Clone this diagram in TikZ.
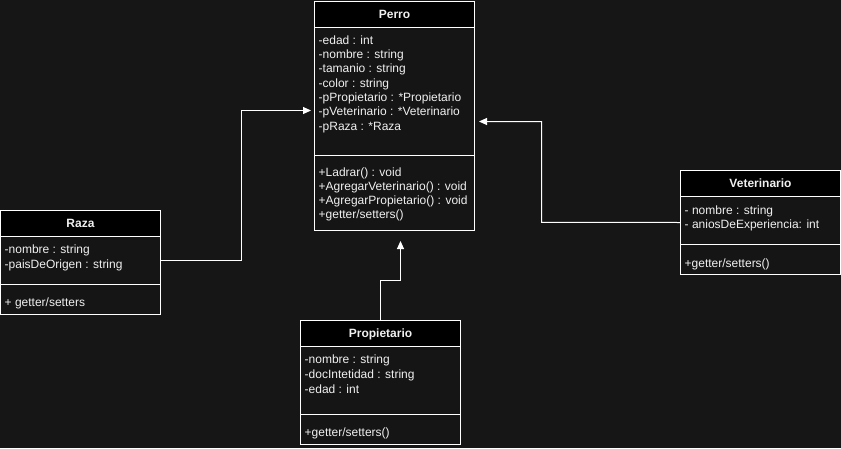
\documentclass[tikz,border=0pt]{standalone}
\usepackage{fontspec}
\setmainfont{Liberation Sans}
\usetikzlibrary{arrows.meta,calc}
\definecolor{bgc}{HTML}{161616}
\definecolor{bodyc}{HTML}{151515}
\definecolor{txtc}{HTML}{F0F0F0}
\tikzset{
  classbody/.style={draw=white, fill=bodyc, line width=1pt, minimum width=160pt, inner sep=0pt, outer sep=0pt},
  classhead/.style={draw=white, fill=black, line width=1pt, minimum width=160pt, minimum height=26pt, inner sep=0pt, outer sep=0pt,
    text=txtc, font=\fontsize{12pt}{14.4pt}\selectfont\bfseries, text height=8.6pt, text depth=0pt},
  divider/.style={draw=white, line width=1pt},
  member/.style={anchor=base west, inner sep=0pt, text=txtc, font=\fontsize{12pt}{14.4pt}\selectfont},
  conn/.style={draw=white, line width=1pt, -{Triangle[length=8pt,width=7pt]}}
}
\begin{document}
\begin{tikzpicture}[x=1pt, y=-1pt]
\useasboundingbox (0,0) rectangle (841,448);
\fill[bgc] (0,0) rectangle (841,448);

% Perro
\node[classbody, minimum height=229pt, anchor=north west] (perro) at (314.5,1) {};
\node[classhead, anchor=north west] (perroH) at (perro.north west) {Perro};
\draw[divider] (perro.west |- 0,155) -- (perro.east |- 0,155);
\foreach \t [count=\i from 0] in {{-edad : int},{-nombre : string},{-tamanio : string},{-color : string},{-pPropietario : *Propietario},{-pVeterinario : *Veterinario},{-pRaza : *Raza}}
  \node[member] (perroA\i) at (318.5,{44.3+14.3*\i}) {\t};
\foreach \t [count=\i from 0] in {{+Ladrar() : void},{+AgregarVeterinario() : void},{+AgregarPropietario() : void},{+getter/setters()}}
  \node[member] (perroM\i) at (318.5,{176+14.2*\i}) {\t};

% Raza
\node[classbody, minimum height=104pt, anchor=north west] (raza) at (0.5,210) {};
\node[classhead, anchor=north west] (razaH) at (raza.north west) {Raza};
\draw[divider] (raza.west |- 0,284.5) -- (raza.east |- 0,284.5);
\foreach \t [count=\i from 0] in {{-nombre : string},{-paisDeOrigen : string}}
  \node[member] (razaA\i) at (4.5,{253.6+15*\i}) {\t};
\node[member] (razaM0) at (4.5,306) {+ getter/setters};

% Propietario
\node[classbody, minimum height=124pt, anchor=north west] (prop) at (300.5,320) {};
\node[classhead, anchor=north west] (propH) at (prop.north west) {Propietario};
\draw[divider] (prop.west |- 0,414) -- (prop.east |- 0,414);
\foreach \t [count=\i from 0] in {{-nombre : string},{-docIntetidad : string},{-edad : int}}
  \node[member] (propA\i) at (304.5,{363.6+14.8*\i}) {\t};
\node[member] (propM0) at (304.5,436) {+getter/setters()};

% Veterinario
\node[classbody, minimum height=104pt, anchor=north west] (vet) at (680.5,170.5) {};
\node[classhead, anchor=north west] (vetH) at (vet.north west) {Veterinario};
\draw[divider] (vet.west |- 0,244.5) -- (vet.east |- 0,244.5);
\foreach \t [count=\i from 0] in {{- nombre : string},{- aniosDeExperiencia: int}}
  \node[member] (vetA\i) at (684.5,{214.3+14*\i}) {\t};
\node[member] (vetM0) at (684.5,267) {+getter/setters()};

% connectors
\coordinate (tipR) at ($(perro.west |- 0,110.5)+(-3.5,0)$);
\coordinate (tipP) at (400.5,241);
\coordinate (tipV) at ($(perro.east |- 0,121.5)+(4.5,0)$);
\draw[conn] (raza.east |- 0,260.5) -- (241.5,260.5) -- (241.5,110.5) -- (tipR);
\draw[conn] (prop.north) -- (prop.north |- 0,280.5) -- (400.5,280.5) -- (tipP);
\draw[conn] (vet.west) -- (541.5,222.25) -- (541.5,121.5) -- (tipV);
\end{tikzpicture}
\end{document}
